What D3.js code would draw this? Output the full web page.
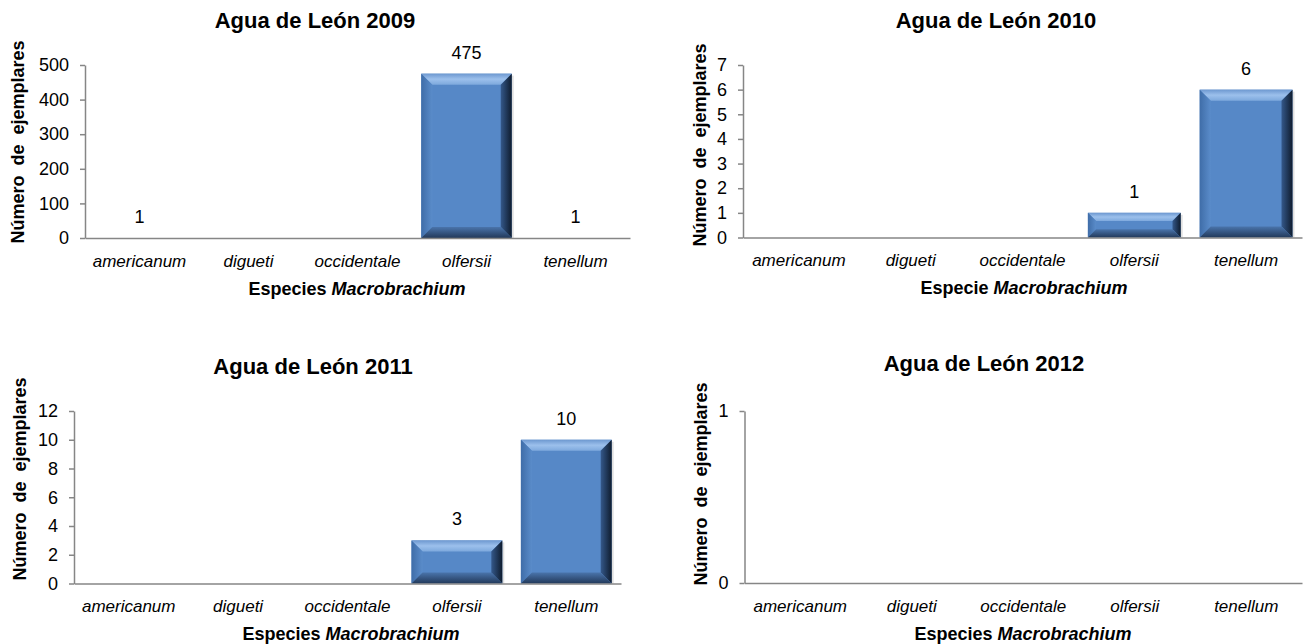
<!DOCTYPE html>
<html><head><meta charset="utf-8">
<script src="https://cdn.jsdelivr.net/npm/d3@7"></script>
<style>
html,body{margin:0;padding:0;background:#fff;}
svg{display:block;font-family:"Liberation Sans",Arial,sans-serif;}
</style></head>
<body>
<svg id="c" width="1303" height="644"></svg>
<script>
const categories = ["americanum","digueti","occidentale","olfersii","tenellum"];
const titles = ["Agua de León 2009","Agua de León 2010","Agua de León 2011","Agua de León 2012"];
const xTitlePrefix = ["Especies","Especie","Especies","Especies"];
const values2009 = [1,0,0,475,1];
const values2010 = [0,0,0,1,6];
const values2011 = [0,0,0,3,10];
const values2012 = [0,0,0,0,0];
const ticks2009 = [0,100,200,300,400,500];
const ticks2010 = [0,1,2,3,4,5,6,7];
const ticks2011 = [0,2,4,6,8,10,12];
const ticks2012 = [0,1];
const yTitle = "Número de ejemplares";
const genus = "Macrobrachium";

const svg = d3.select("#c");
const defs = svg.append("defs");
function grad(id, x2, y2, stops){
  const g = defs.append("linearGradient").attr("id",id)
    .attr("x1",0).attr("y1",0).attr("x2",x2).attr("y2",y2);
  stops.forEach(s=>g.append("stop").attr("offset",s[0]).attr("stop-color",s[1]));
}
grad("gTop",0,1,[[0,"#6d98d0"],[0.5,"#9cc0ec"],[1,"#7ea9dd"]]);
grad("gLeft",1,0,[[0,"#3f6da8"],[1,"#5a8cca"]]);
grad("gRight",1,0,[[0,"#34588a"],[1,"#0f1c2e"]]);
grad("gBottom",0,1,[[0,"#4a74ab"],[1,"#22395a"]]);

const FS = 18, CFS = 17;
const panels = [
  {vals:values2009, ticks:ticks2009, x0:85, x1:630, yT:65, yB:238, tx:315, ty:20, ytx:18, yty:142, lx:261, xtx:357, xty:289},
  {vals:values2010, ticks:ticks2010, x0:743, x1:1302, yT:65, yB:237.5, tx:996, ty:20, ytx:700, yty:145, lx:260, xtx:1024, xty:288},
  {vals:values2011, ticks:ticks2011, x0:74, x1:621, yT:411, yB:583.5, tx:313, ty:366, ytx:20, yty:479, lx:606, xtx:351, xty:634},
  {vals:values2012, ticks:ticks2012, x0:744.5, x1:1302, yT:411, yB:583, tx:984, ty:363, ytx:701, yty:484, lx:606, xtx:1023, xty:634}
];

panels.forEach((p,i)=>{
  const g = svg.append("g");
  const x = d3.scaleBand().domain(categories).range([p.x0,p.x1]).paddingInner(0.17).paddingOuter(0.085);
  const y = d3.scaleLinear().domain([0, d3.max(p.ticks)]).range([p.yB,p.yT]);

  const data = categories.map((c,k)=>({c, v:p.vals[k]}));
  data.filter(d=>d.v>0).forEach(d=>{
    const bx = x(d.c), bw = x.bandwidth(), by = y(d.v), bh = y(0)-y(d.v);
    if (bh < 2) return;
    const b = Math.min(11, bh/3);
    const bg = g.append("g");
    bg.append("rect").attr("x",bx+2).attr("y",by+2).attr("width",bw).attr("height",bh-2)
      .attr("fill","#000").attr("opacity",0.12);
    bg.append("rect").attr("x",bx).attr("y",by).attr("width",bw).attr("height",bh).attr("fill","#5688c7");
    const P = pts=>pts.map(q=>q.join(",")).join(" ");
    bg.append("polygon").attr("points",P([[bx,by],[bx+bw,by],[bx+bw-b,by+b],[bx+b,by+b]])).attr("fill","url(#gTop)");
    bg.append("polygon").attr("points",P([[bx,by],[bx+b,by+b],[bx+b,by+bh-b],[bx,by+bh]])).attr("fill","url(#gLeft)");
    bg.append("polygon").attr("points",P([[bx+bw,by],[bx+bw,by+bh],[bx+bw-b,by+bh-b],[bx+bw-b,by+b]])).attr("fill","url(#gRight)");
    bg.append("polygon").attr("points",P([[bx,by+bh],[bx+b,by+bh-b],[bx+bw-b,by+bh-b],[bx+bw,by+bh]])).attr("fill","url(#gBottom)");
  });
  g.selectAll(".vl").data(data.filter(d=>d.v>0)).join("text")
    .attr("x",d=>x(d.c)+x.bandwidth()/2).attr("y",d=>y(d.v)-15)
    .attr("text-anchor","middle").attr("font-size",FS).attr("fill","#000").text(d=>d.v);

  const ya = g.append("g").attr("transform",`translate(${p.x0},0)`)
    .call(d3.axisLeft(y).tickValues(p.ticks).tickFormat(d3.format("d")).tickSize(5).tickSizeOuter(0).tickPadding(11));
  ya.select(".domain").attr("stroke","#868686").attr("stroke-width",1.5);
  ya.selectAll(".tick line").attr("stroke","#868686").attr("stroke-width",1.5);
  ya.selectAll(".tick text").attr("font-size",FS).attr("fill","#000").attr("font-family","Liberation Sans, Arial, sans-serif");

  const xa = g.append("g").attr("transform",`translate(0,${p.yB})`)
    .call(d3.axisBottom(x).tickSize(0).tickSizeOuter(0).tickPadding(0));
  xa.select(".domain").attr("stroke","#868686").attr("stroke-width",1.5);
  xa.selectAll(".tick text").attr("font-size",CFS).attr("font-style","italic").attr("fill","#000")
    .attr("font-family","Liberation Sans, Arial, sans-serif")
    .attr("dy",null).attr("y",p.lx - p.yB).attr("dominant-baseline","central");

  g.append("text").attr("x",p.tx).attr("y",p.ty).attr("text-anchor","middle").attr("dominant-baseline","central")
    .attr("font-size",22).attr("font-weight","bold").text(titles[i]);
  g.append("text").attr("transform",`translate(${p.ytx},${p.yty}) rotate(-90)`)
    .attr("text-anchor","middle").attr("dominant-baseline","central")
    .attr("font-size",FS).attr("font-weight","bold").attr("word-spacing",5).text(yTitle);
  const xt = g.append("text").attr("x",p.xtx).attr("y",p.xty).attr("text-anchor","middle").attr("dominant-baseline","central")
    .attr("font-size",FS).attr("font-weight","bold");
  xt.append("tspan").text(xTitlePrefix[i]+" ");
  xt.append("tspan").attr("font-style","italic").text(genus);
});
</script>
</body></html>
